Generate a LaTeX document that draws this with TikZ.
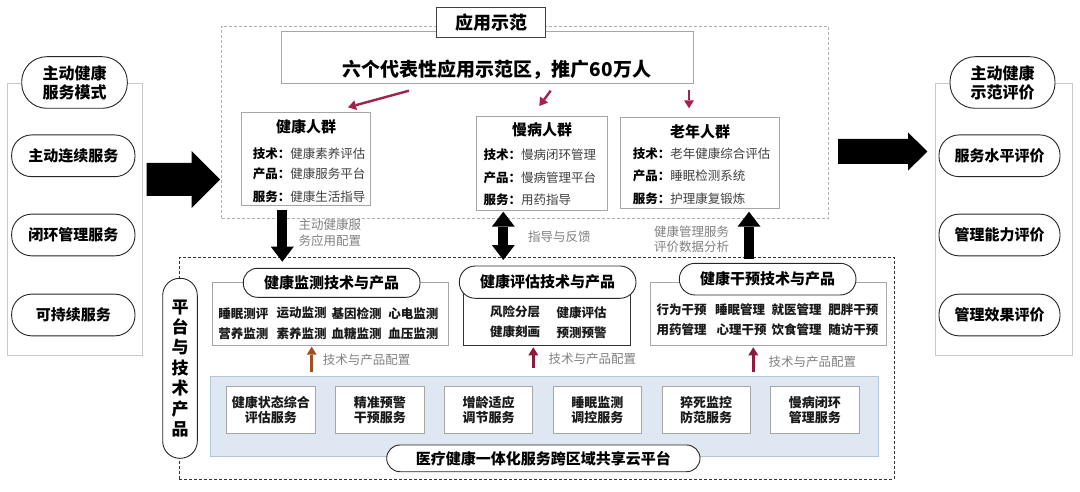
\documentclass[tikz,border=0pt]{standalone}
\usepackage{fontspec}
\setmainfont{Noto Sans CJK SC}
\usetikzlibrary{arrows.meta}
\definecolor{boxgray}{HTML}{A6A6A6}
\definecolor{lightgray}{HTML}{C8C8C8}
\definecolor{dashg}{HTML}{B0B0B0}
\definecolor{labgray}{HTML}{808080}
\definecolor{txtgray}{HTML}{404040}
\definecolor{crimsonA}{HTML}{A3224A}
\definecolor{crimsonB}{HTML}{8E1B3B}
\definecolor{brownA}{HTML}{A0501E}
\definecolor{bluefill}{HTML}{DEE7F2}
\definecolor{blueline}{HTML}{B3C5D9}
\newcommand{\myfs}[2]{\fontsize{#1pt}{#2pt}\selectfont}
\begin{document}
\begin{tikzpicture}[x=1pt,y=-1pt,
  lbox/.style={draw=boxgray, line width=0.8pt, fill=white, inner sep=0pt},
  stad/.style={draw=black!85, line width=0.9pt, fill=white, rounded corners=#1, inner sep=0pt, align=center, text=black},
  dashgray/.style={draw=dashg, dash pattern=on 3pt off 2pt, line width=0.7pt, inner sep=0pt},
  dashdark/.style={draw=black!80, dash pattern=on 3pt off 2pt, line width=0.8pt, inner sep=0pt},
  thickarr/.style={line width=10pt, -{Triangle[length=15pt,width=23pt,line width=0pt]}},
  redarr/.style={draw=#1, line width=2.4pt, -{Triangle[length=8pt,width=10pt,line width=0pt]}},
  ttl/.style={inner sep=0pt, font=\myfs{15}{18}\bfseries, text=black},
  line/.style={anchor=west, inner sep=0pt, font=\myfs{12.5}{15}, text=txtgray},
  item/.style={inner sep=0pt, font=\myfs{12.5}{15}\bfseries, text=black!90},
  glab/.style={inner sep=0pt, font=\myfs{12.5}{15.5}, text=labgray, align=left},
  svc/.style={lbox, minimum width=88.5pt, minimum height=46.7pt, align=center, font=\myfs{13}{15}\bfseries, text=black!90}
]
\useasboundingbox (0,0) rectangle (1080,492);

% ---------- left panel ----------
\node[lbox, draw=lightgray, minimum width=135.4pt, minimum height=271.7pt] (lpanel) at (75,219.2) {};
\node[stad=25pt, minimum width=105.6pt, minimum height=51.6pt, font=\myfs{16}{19}\bfseries] (ltitle) at (74.5,82.5) {主动健康\\服务模式};
\node[stad=20pt, minimum width=123.3pt, minimum height=41.7pt, font=\myfs{15}{18}\bfseries] (l1) at (73.3,155.8) {主动连续服务};
\node[stad=20pt, minimum width=123.3pt, minimum height=41.7pt, font=\myfs{15}{18}\bfseries] (l2) at (73.3,235) {闭环管理服务};
\node[stad=20pt, minimum width=123.3pt, minimum height=41.7pt, font=\myfs{15}{18}\bfseries] (l3) at (73.3,315) {可持续服务};

% ---------- right panel ----------
\node[lbox, draw=lightgray, minimum width=137.3pt, minimum height=271.7pt] (rpanel) at (1003.7,219.2) {};
\node[stad=25pt, minimum width=105pt, minimum height=51.6pt, font=\myfs{16}{19}\bfseries] (rtitle) at (1002.5,82.5) {主动健康\\示范评价};
\node[stad=20pt, minimum width=121pt, minimum height=41.7pt, font=\myfs{15}{18}\bfseries] (r1) at (999.5,155.8) {服务水平评价};
\node[stad=20pt, minimum width=121pt, minimum height=41.7pt, font=\myfs{15}{18}\bfseries] (r2) at (999.5,235) {管理能力评价};
\node[stad=20pt, minimum width=121pt, minimum height=41.7pt, font=\myfs{15}{18}\bfseries] (r3) at (999.5,315) {管理效果评价};

% ---------- big block arrows ----------
\fill[black] (146.7,163) -- (191.7,163) -- (191.7,151.2) -- (220,179.5) -- (191.7,207.8) -- (191.7,196) -- (146.7,196) -- cycle;
\fill[black] (838,139) -- (908,139) -- (908,132.3) -- (927.3,151.5) -- (908,170.7) -- (908,164) -- (838,164) -- cycle;

% ---------- top area ----------
\node[dashgray, minimum width=606.6pt, minimum height=192.3pt] (toparea) at (525,122.15) {};
\node[lbox, minimum width=411.6pt, minimum height=51.6pt] (banner) at (487.5,57.5) {};
\node[inner sep=0pt, font=\myfs{19}{22}\bfseries, text=black] (bannertxt) at (497,70) {六个代表性应用示范区，推广60万人};
\node[lbox, draw=black!75, minimum width=109pt, minimum height=30pt, font=\myfs{18}{21}\bfseries, text=black] (demo) at (491.2,22.3) {应用示范};

% group boxes
\node[lbox, minimum width=129pt, minimum height=92.7pt] (g1) at (306.2,158.65) {};
\node[ttl] (g1t) at (306.2,127) {健康人群};
\node[line] (g1a) at (252.7,153.3) {\textcolor{black}{\bfseries 技术：}健康素养评估};
\node[line] (g1b) at (252.7,174) {\textcolor{black}{\bfseries 产品：}健康服务平台};
\node[line] (g1c) at (252.7,196.7) {\textcolor{black}{\bfseries 服务：}健康生活指导};

\node[lbox, minimum width=130.6pt, minimum height=93.3pt] (g2) at (542,163.35) {};
\node[ttl] (g2t) at (542,130) {慢病人群};
\node[line] (g2a) at (483.3,155) {\textcolor{black}{\bfseries 技术：}慢病闭环管理};
\node[line] (g2b) at (483.3,178.3) {\textcolor{black}{\bfseries 产品：}慢病管理平台};
\node[line] (g2c) at (483.3,200) {\textcolor{black}{\bfseries 服务：}用药指导};

\node[lbox, minimum width=158.6pt, minimum height=91pt] (g3) at (700,162.8) {};
\node[ttl] (g3t) at (700,131.7) {老年人群};
\node[line] (g3a) at (632.7,154) {\textcolor{black}{\bfseries 技术：}老年健康综合评估};
\node[line] (g3b) at (632.7,175.7) {\textcolor{black}{\bfseries 产品：}睡眠检测系统};
\node[line] (g3c) at (632.7,199) {\textcolor{black}{\bfseries 服务：}护理康复锻炼};

% red arrows from the banner
\coordinate (ra1s) at (409,90.7);  \coordinate (ra1e) at (348,107.3);
\coordinate (ra2s) at (550.7,90.7); \coordinate (ra2e) at (539.3,106);
\coordinate (ra3s) at (689,90);    \coordinate (ra3e) at (689,108.3);
\draw[redarr=crimsonA] (ra1s) -- (ra1e);
\draw[redarr=crimsonA] (ra2s) -- (ra2e);
\draw[redarr=crimsonA] (ra3s) -- (ra3e);

% ---------- bottom area ----------
\node[dashdark, minimum width=714.7pt, minimum height=222pt] (botarea) at (536.65,368.3) {};
\node[stad=17pt, minimum width=34.6pt, minimum height=180pt, font=\myfs{17}{20.4}\bfseries] (plat) at (180,368.3) {平\\台\\与\\技\\术\\产\\品};

% monitoring panel
\node[lbox, minimum width=235.6pt, minimum height=62.7pt] (b1) at (330.5,313.65) {};
\node[stad=14pt, minimum width=176.7pt, minimum height=29pt, font=\myfs{15}{18}\bfseries] (b1t) at (331.65,282.8) {健康监测技术与产品};
\node[item] (b1i1) at (243.3,313.3) {睡眠测评};
\node[item] (b1i2) at (301.7,313.3) {运动监测};
\node[item] (b1i3) at (356.7,313.3) {基因检测};
\node[item] (b1i4) at (413.3,313.3) {心电监测};
\node[item] (b1i5) at (243.3,333.3) {营养监测};
\node[item] (b1i6) at (301.7,333.3) {素养监测};
\node[item] (b1i7) at (356.7,333.3) {血糖监测};
\node[item] (b1i8) at (413.3,333.3) {血压监测};

% assessment panel
\node[lbox, draw=black!80, minimum width=166.7pt, minimum height=63pt] (b2) at (546.65,314.2) {};
\node[stad=16pt, minimum width=176.7pt, minimum height=32.3pt, font=\myfs{15}{18}\bfseries] (b2t) at (547.65,282.15) {健康评估技术与产品};
\node[item] (b2i1) at (515,311.5) {风险分层};
\node[item] (b2i2) at (581.7,312.7) {健康评估};
\node[item] (b2i3) at (515,332) {健康刻画};
\node[item] (b2i4) at (581.7,332.7) {预测预警};

% intervention panel
\node[lbox, minimum width=236pt, minimum height=62.7pt] (b3) at (768.7,313.65) {};
\node[stad=15.8pt, minimum width=176.7pt, minimum height=31.7pt, font=\myfs{15}{18}\bfseries] (b3t) at (767.65,279.15) {健康干预技术与产品};
\node[item] (b3i1) at (681.7,310) {行为干预};
\node[item] (b3i2) at (740,310) {睡眠管理};
\node[item] (b3i3) at (796.7,310) {就医管理};
\node[item] (b3i4) at (853.3,310) {肥胖干预};
\node[item] (b3i5) at (681.7,330) {用药管理};
\node[item] (b3i6) at (741.7,330) {心理干预};
\node[item] (b3i7) at (796.7,330) {饮食管理};
\node[item] (b3i8) at (853.3,330) {随访干预};

% blue platform panel
\node[draw=blueline, fill=bluefill, line width=0.8pt, inner sep=0pt, minimum width=668.3pt, minimum height=80.5pt] (blue) at (544.15,416.25) {};
\node[svc] (s1) at (270.95,410) {健康状态综合\\评估服务};
\node[svc] (s2) at (379.75,410) {精准预警\\干预服务};
\node[svc] (s3) at (488.55,410) {增龄适应\\调节服务};
\node[svc] (s4) at (597.35,410) {睡眠监测\\调控服务};
\node[svc] (s5) at (706.15,410) {猝死监控\\防范服务};
\node[svc] (s6) at (814.95,410) {慢病闭环\\管理服务};
\node[stad=13.3pt, minimum width=313.3pt, minimum height=26.7pt, font=\myfs{15}{18}\bfseries] (cloud) at (543.35,458.35) {医疗健康一体化服务跨区域共享云平台};

% small configuration arrows
\coordinate (c1s) at (311.7,371.7); \coordinate (c1e) at (311.7,346.7);
\coordinate (c2s) at (533.3,368.3); \coordinate (c2e) at (533.3,347.3);
\coordinate (c3s) at (753.3,371.7); \coordinate (c3e) at (753.3,347.3);
\draw[redarr=brownA, line width=2.8pt] (c1s) -- (c1e);
\draw[redarr=crimsonB, line width=2.8pt] (c2s) -- (c2e);
\draw[redarr=crimsonB, line width=2.8pt] (c3s) -- (c3e);
\node[glab, anchor=west] (c1l) at (322.7,360) {技术与产品配置};
\node[glab, anchor=west] (c2l) at (548.3,359) {技术与产品配置};
\node[glab, anchor=west] (c3l) at (768.3,361.7) {技术与产品配置};

% ---------- thick black arrows between layers ----------
\coordinate (d1s) at (282.3,210);   \coordinate (d1e) at (282.3,261.7);
\coordinate (d2s) at (503.3,211.7); \coordinate (d2e) at (503.3,260);
\coordinate (d3s) at (749,259.3);   \coordinate (d3e) at (749,211.7);
\draw[thickarr] (d1s) -- (d1e);
\draw[line width=10pt, {Triangle[length=15pt,width=23pt,line width=0pt]}-{Triangle[length=15pt,width=23pt,line width=0pt]}] (d2s) -- (d2e);
\draw[thickarr] (d3s) -- (d3e);
\node[glab, anchor=north west] (d1l) at (298.5,219) {主动健康服\\务应用配置};
\node[glab] (d2l) at (559.3,236.7) {指导与反馈};
\node[glab, anchor=north west] (d3l) at (654,225.5) {健康管理服务\\评价数据分析};

\end{tikzpicture}
\end{document}
